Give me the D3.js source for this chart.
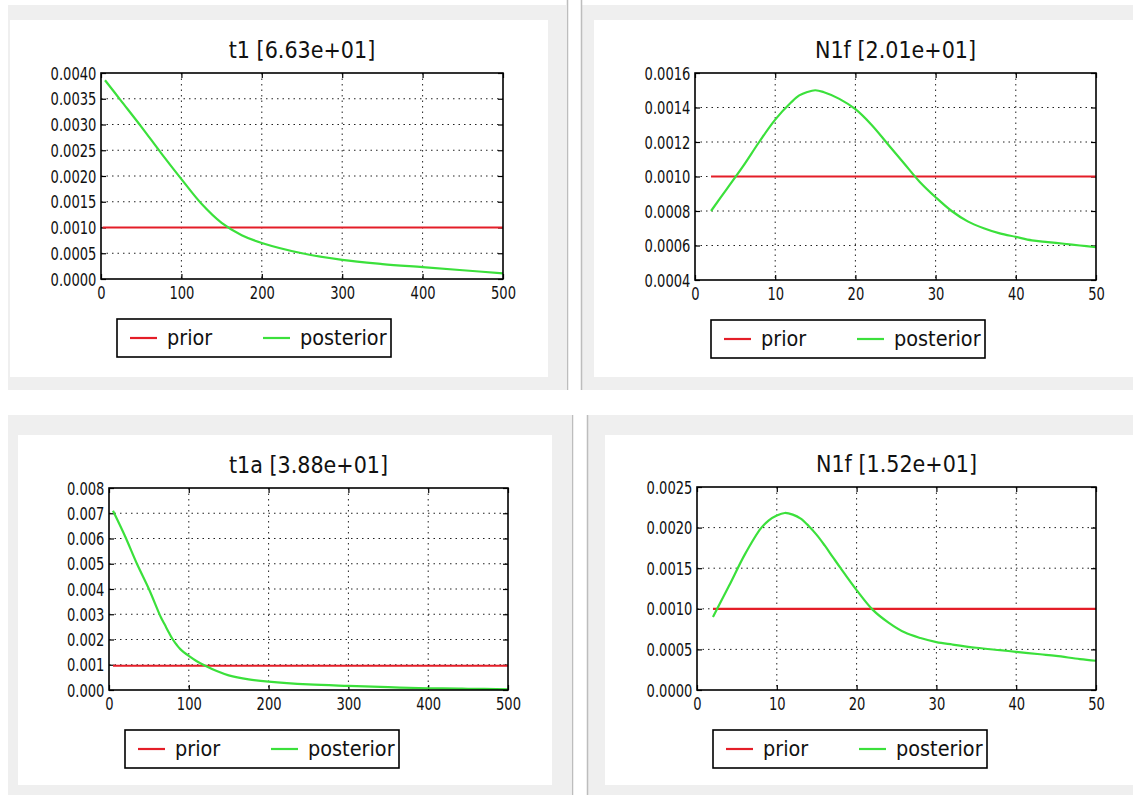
<!DOCTYPE html>
<html>
<head>
<meta charset="utf-8">
<script src="https://cdn.jsdelivr.net/npm/d3@7"></script>
<style>
    body { margin: 0; background: #fff; }
    svg { display: block; }
    text { font-family: "DejaVu Sans", sans-serif; fill: #111; }
</style>
</head>
<body>
<div id="root"></div>
<script>
// t1 panel
const t1X = [5, 25, 50, 75, 100, 125, 150, 175, 200, 250, 300, 350, 400, 450, 500];
const t1Posterior = [0.00386, 0.00346, 0.00296, 0.00244, 0.00194, 0.00146, 0.00109, 0.00085, 0.00070,
    0.00050, 0.00037, 0.00029, 0.00023, 0.00017, 0.00011];
const t1PriorX = [2, 500];
const t1Prior = [0.001, 0.001];

// N1f panel (top)
const n1fAX = [2, 4, 6, 8, 10, 12, 13, 14, 15, 16, 18, 20, 22, 24, 26, 28, 30, 32, 34, 36, 38, 40, 42, 44, 46, 48, 50];
const n1fAPosterior = [0.00080, 0.00093, 0.00106, 0.00120, 0.00133, 0.00143, 0.00147, 0.00149, 0.00150, 0.00149,
    0.00145, 0.00139, 0.00130, 0.00119, 0.00108, 0.00097, 0.00088, 0.00080, 0.00074, 0.00070, 0.00067, 0.00065,
    0.00063, 0.00062, 0.00061, 0.00060, 0.00059];
const n1fAPriorX = [2, 50];
const n1fAPrior = [0.001, 0.001];

// t1a panel
const t1aX = [5, 20, 35, 50, 65, 70, 75, 80, 85, 90, 100, 110, 120, 135, 150, 175, 200, 250, 300, 350, 400, 450, 500];
const t1aPosterior = [0.0071, 0.0061, 0.0050, 0.0040, 0.00288, 0.00258, 0.00228, 0.00200, 0.00178, 0.00160,
    0.00135, 0.00114, 0.00097, 0.00075, 0.00058, 0.00042, 0.00033, 0.00022, 0.00016, 0.00011, 0.00007,
    0.00005, 0.00003];
const t1aPriorX = [5, 500];
const t1aPrior = [0.00096, 0.00096];

// N1f panel (bottom)
const n1fBX = [2, 4, 6, 8, 9, 10, 11, 12, 13, 14, 15, 16, 17, 18, 20, 22, 24, 26, 28, 30, 32, 35, 38, 40, 43, 45, 48, 50];
const n1fBPosterior = [0.00090, 0.00128, 0.00167, 0.00199, 0.00209, 0.00215, 0.00218, 0.00216, 0.00211, 0.00202,
    0.00191, 0.00178, 0.00164, 0.00150, 0.00123, 0.00099, 0.00083, 0.00071, 0.00064, 0.00059, 0.00056, 0.00052,
    0.00049, 0.00047, 0.00044, 0.00042, 0.00038, 0.00036];
const n1fBPriorX = [2, 50];
const n1fBPrior = [0.001, 0.001];

// ticks
const tickX500 = [0, 100, 200, 300, 400, 500];
const tickX50 = [0, 10, 20, 30, 40, 50];
const t1YTicks = [0, 0.0005, 0.001, 0.0015, 0.002, 0.0025, 0.003, 0.0035, 0.004];
const n1fAYTicks = [0.0004, 0.0006, 0.0008, 0.001, 0.0012, 0.0014, 0.0016];
const t1aYTicks = [0, 0.001, 0.002, 0.003, 0.004, 0.005, 0.006, 0.007, 0.008];
const n1fBYTicks = [0, 0.0005, 0.001, 0.0015, 0.002, 0.0025];

const titles = ['t1 [6.63e+01]', 'N1f [2.01e+01]', 't1a [3.88e+01]', 'N1f [1.52e+01]'];
const legendLabels = ['prior', 'posterior'];

const RED = '#e41e28',
    GREEN = '#3be03b';

const panels = [
    { title: titles[0], x: t1X, post: t1Posterior, px: t1PriorX, prior: t1Prior,
      xTicks: tickX500, yTicks: t1YTicks, fmt: '.4f', box: { l: 101, r: 503, t: 73, b: 279 } },
    { title: titles[1], x: n1fAX, post: n1fAPosterior, px: n1fAPriorX, prior: n1fAPrior,
      xTicks: tickX50, yTicks: n1fAYTicks, fmt: '.4f', box: { l: 695, r: 1096, t: 73, b: 280 } },
    { title: titles[2], x: t1aX, post: t1aPosterior, px: t1aPriorX, prior: t1aPrior,
      xTicks: tickX500, yTicks: t1aYTicks, fmt: '.3f', box: { l: 109, r: 508, t: 488, b: 690 } },
    { title: titles[3], x: n1fBX, post: n1fBPosterior, px: n1fBPriorX, prior: n1fBPrior,
      xTicks: tickX50, yTicks: n1fBYTicks, fmt: '.4f', box: { l: 697, r: 1096, t: 487, b: 690 } }
];

const svg = d3.select('#root').append('svg')
    .attr('width', 1133)
    .attr('height', 795);

// window chrome: gray frames, white panels, splitters
const bg = svg.append('g');
[[8, 5, 558, 385], [582, 5, 551, 385], [8, 415, 563, 380], [588, 415, 545, 380]].forEach(r => {
    bg.append('rect').attr('x', r[0]).attr('y', r[1]).attr('width', r[2]).attr('height', r[3]).attr('fill', '#efefef');
});
[[10, 20, 538, 357], [594, 20, 539, 357], [18, 435, 534, 350], [605, 435, 528, 350]].forEach(r => {
    bg.append('rect').attr('x', r[0]).attr('y', r[1]).attr('width', r[2]).attr('height', r[3]).attr('fill', '#fff');
});
[[567.5, 0, 390], [581.5, 0, 390], [572.5, 415, 795], [587.5, 415, 795]].forEach(l => {
    bg.append('line').attr('x1', l[0]).attr('x2', l[0]).attr('y1', l[1]).attr('y2', l[2])
        .attr('stroke', '#bdbdbd').attr('stroke-width', 1.5);
});

panels.forEach(p => {
    const b = p.box;
    const g = svg.append('g');

    const x = d3.scaleLinear()
        .domain([p.xTicks[0], p.xTicks[p.xTicks.length - 1]])
        .range([b.l, b.r]);
    const y = d3.scaleLinear()
        .domain([p.yTicks[0], p.yTicks[p.yTicks.length - 1]])
        .range([b.b, b.t]);

    // grid
    const grid = g.append('g')
        .attr('stroke', '#222')
        .attr('stroke-width', 1)
        .attr('stroke-dasharray', '1.5,4');
    p.xTicks.slice(1, -1).forEach(v => {
        grid.append('line').attr('x1', x(v)).attr('x2', x(v)).attr('y1', b.t).attr('y2', b.b);
    });
    p.yTicks.slice(1, -1).forEach(v => {
        grid.append('line').attr('x1', b.l).attr('x2', b.r).attr('y1', y(v)).attr('y2', y(v));
    });

    // axes with inward ticks on all four sides
    const fmt = d3.format(p.fmt);
    g.append('g')
        .attr('transform', 'translate(0,' + b.b + ')')
        .call(d3.axisBottom(x).tickValues(p.xTicks).tickSize(-5).tickPadding(8));
    const axL = g.append('g')
        .attr('transform', 'translate(' + b.l + ',0)')
        .call(d3.axisLeft(y).tickValues(p.yTicks).tickFormat(fmt).tickSize(-5).tickPadding(6));
    g.append('g')
        .attr('transform', 'translate(0,' + b.t + ')')
        .call(d3.axisTop(x).tickValues(p.xTicks).tickSize(-5).tickFormat(''));
    g.append('g')
        .attr('transform', 'translate(' + b.r + ',0)')
        .call(d3.axisRight(y).tickValues(p.yTicks).tickSize(-5).tickFormat(''));

    g.selectAll('.domain').remove();
    g.selectAll('.tick line').attr('stroke', '#000').attr('stroke-width', 1.2);
    g.selectAll('.tick text')
        .style('font-family', '"DejaVu Sans", sans-serif')
        .style('font-size', '17px')
        .attr('transform', 'scale(0.77,1)')
        .attr('fill', '#000');
    axL.selectAll('.tick text').attr('dy', '0.36em');

    // data lines
    const line = d3.line()
        .x(d => x(d[0]))
        .y(d => y(d[1]))
        .curve(d3.curveCatmullRom.alpha(0.5));

    g.append('path')
        .datum(d3.zip(p.px, p.prior))
        .attr('d', line)
        .attr('fill', 'none')
        .attr('stroke', RED)
        .attr('stroke-width', 2.2);

    g.append('path')
        .datum(d3.zip(p.x, p.post))
        .attr('d', line)
        .attr('fill', 'none')
        .attr('stroke', GREEN)
        .attr('stroke-width', 2.2);

    // frame
    g.append('rect')
        .attr('x', b.l).attr('y', b.t)
        .attr('width', b.r - b.l).attr('height', b.b - b.t)
        .attr('fill', 'none')
        .attr('stroke', '#000')
        .attr('stroke-width', 1.6);

    // title
    const cx = (b.l + b.r) / 2;
    g.append('text')
        .attr('transform', 'translate(' + cx + ',' + (b.t - 15) + ') scale(0.9,1)')
        .attr('text-anchor', 'middle')
        .style('font-size', '23px')
        .text(p.title);

    // legend
    const lx = b.l + 16,
        ly = b.b + 40;
    const leg = g.append('g').attr('transform', 'translate(' + lx + ',' + ly + ')');
    leg.append('rect')
        .attr('width', 274).attr('height', 38)
        .attr('fill', '#fff')
        .attr('stroke', '#000')
        .attr('stroke-width', 1.6);
    [RED, GREEN].forEach((c, i) => {
        const ox = i === 0 ? 13 : 146;
        leg.append('line')
            .attr('x1', ox).attr('x2', ox + 27)
            .attr('y1', 19).attr('y2', 19)
            .attr('stroke', c)
            .attr('stroke-width', 2.2);
        leg.append('text')
            .attr('transform', 'translate(' + (ox + 37) + ',26) scale(0.92,1)')
            .style('font-size', '21px')
            .text(legendLabels[i]);
    });
});
</script>
</body>
</html>
